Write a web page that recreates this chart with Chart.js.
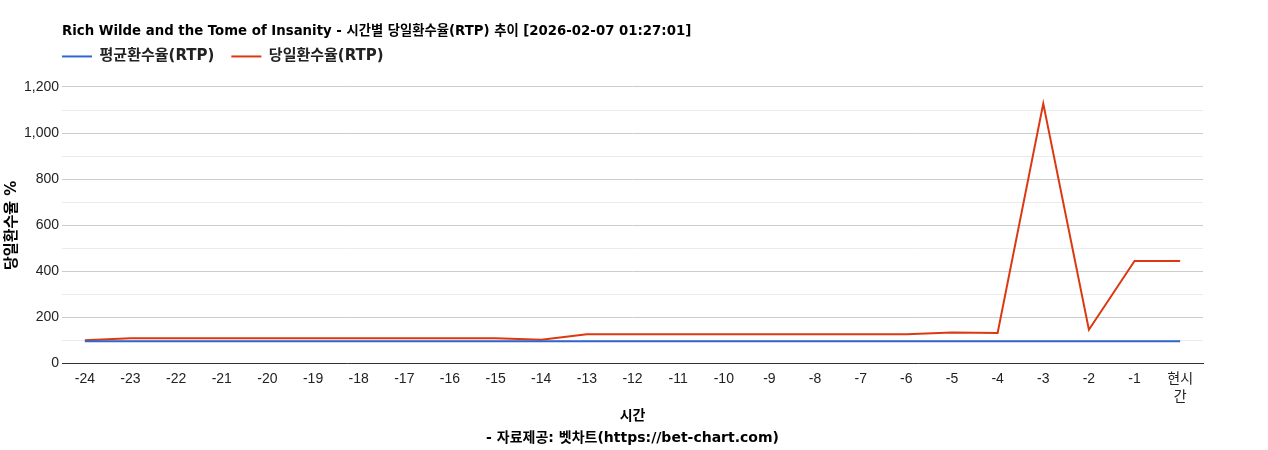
<!DOCTYPE html>
<html>
<head>
<meta charset="utf-8">
<script src="https://cdn.jsdelivr.net/npm/chart.js@4.4.1/dist/chart.umd.min.js"></script>
<style>
  html, body { margin: 0; padding: 0; background: #fff; }
  #wrap { width: 1268px; height: 450px; }
</style>
</head>
<body>
<div id="wrap"><canvas id="myChart"></canvas></div>
<script>
// data
const hours = ['-24','-23','-22','-21','-20','-19','-18','-17','-16','-15','-14','-13',
  '-12','-11','-10','-9','-8','-7','-6','-5','-4','-3','-2','-1',['현시','간']];
const avg_rtp = [97,97,97,97,97,97,97,97,97,97,97,97,97,97,97,97,97,97,97,97,97,97,97,97,97];
const today_rtp = [101,110,110,110,110,110,110,110,110,110,104,127,127,127,127,127,127,127,127,135,133,1128,147,445,445];
const titleText = 'Rich Wilde and the Tome of Insanity - 시간별 당일환수율(RTP) 추이 [2026-02-07 01:27:01]';

const FONT = "Arial, 'Liberation Sans', 'Noto Sans CJK KR', sans-serif";
const HEAD_FONT = "'DejaVu Sans', 'Noto Sans CJK KR', sans-serif";
const LEGEND_GAP = 17;

// legend starts right at the plot's left edge, with some room under it
const legendShift = {
  id: 'legendShift',
  beforeInit(chart) {
    const origFit = chart.legend.fit;
    chart.legend.fit = function() {
      origFit.bind(chart.legend)();
      this.height += 13;
    };
  },
  afterLayout(chart) {
    chart.legend.left -= LEGEND_GAP;
    chart.legend.right -= LEGEND_GAP;
  }
};

const data = {
  labels: hours,
  datasets: [{
    label: '평균환수율(RTP)',
    data: avg_rtp,
    borderColor: '#3366cc',
    backgroundColor: '#3366cc',
    borderWidth: 2,
    pointRadius: 0,
  },
  {
    label: '당일환수율(RTP)',
    data: today_rtp,
    borderColor: '#dc3912',
    backgroundColor: '#dc3912',
    borderWidth: 2,
    pointRadius: 0,
  }]
};

// config
const config = {
  type: 'line',
  data,
  plugins: [legendShift],
  options: {
    responsive: true,
    maintainAspectRatio: false,
    animation: false,
    layout: { padding: { left: 0, right: 65, top: 24, bottom: 1 } },
    plugins: {
      title: {
        display: true,
        text: titleText,
        align: 'start',
        fullSize: false,
        color: '#000',
        font: { family: HEAD_FONT, size: 13.3, weight: 'bold' },
        padding: { top: 0, bottom: -8 }
      },
      legend: {
        display: true,
        align: 'start',
        fullSize: false,
        labels: {
          usePointStyle: true,
          pointStyle: 'line',
          pointStyleWidth: 30,
          color: '#222',
          font: { family: HEAD_FONT, size: 15, weight: 'bold' },
          padding: LEGEND_GAP
        }
      },
      tooltip: { enabled: false }
    },
    scales: {
      x: {
        offset: true,
        grid: { display: false },
        border: { color: '#333', width: 1 },
        ticks: {
          color: '#222',
          font: { family: FONT, size: 14, lineHeight: 1.3 },
          maxRotation: 0,
          autoSkip: false,
          padding: -2
        },
        title: {
          display: true,
          text: ['시간', '- 자료제공: 벳차트(https://bet-chart.com)'],
          color: '#000',
          font: { family: HEAD_FONT, size: 14, weight: 'bold', lineHeight: 1.57 },
          padding: { top: 1, bottom: 0 }
        }
      },
      y: {
        min: 0,
        max: 1200,
        border: { display: false },
        grid: {
          drawTicks: false,
          color: function(ctx) {
            return ctx.tick.value % 200 === 0 ? '#cccccc' : '#ebebeb';
          }
        },
        ticks: {
          stepSize: 100,
          color: '#222',
          padding: 3,
          font: { family: FONT, size: 14 },
          callback: function(v) {
            return v % 200 === 0 ? v.toLocaleString('en-US') : '';
          }
        },
        title: {
          display: true,
          text: '당일환수율 %',
          color: '#000',
          font: { family: HEAD_FONT, size: 15, weight: 'bold' },
          padding: { top: 3, bottom: 0 }
        }
      }
    }
  }
};

// render
const myChart = new Chart(document.getElementById('myChart'), config);
</script>
</body>
</html>
